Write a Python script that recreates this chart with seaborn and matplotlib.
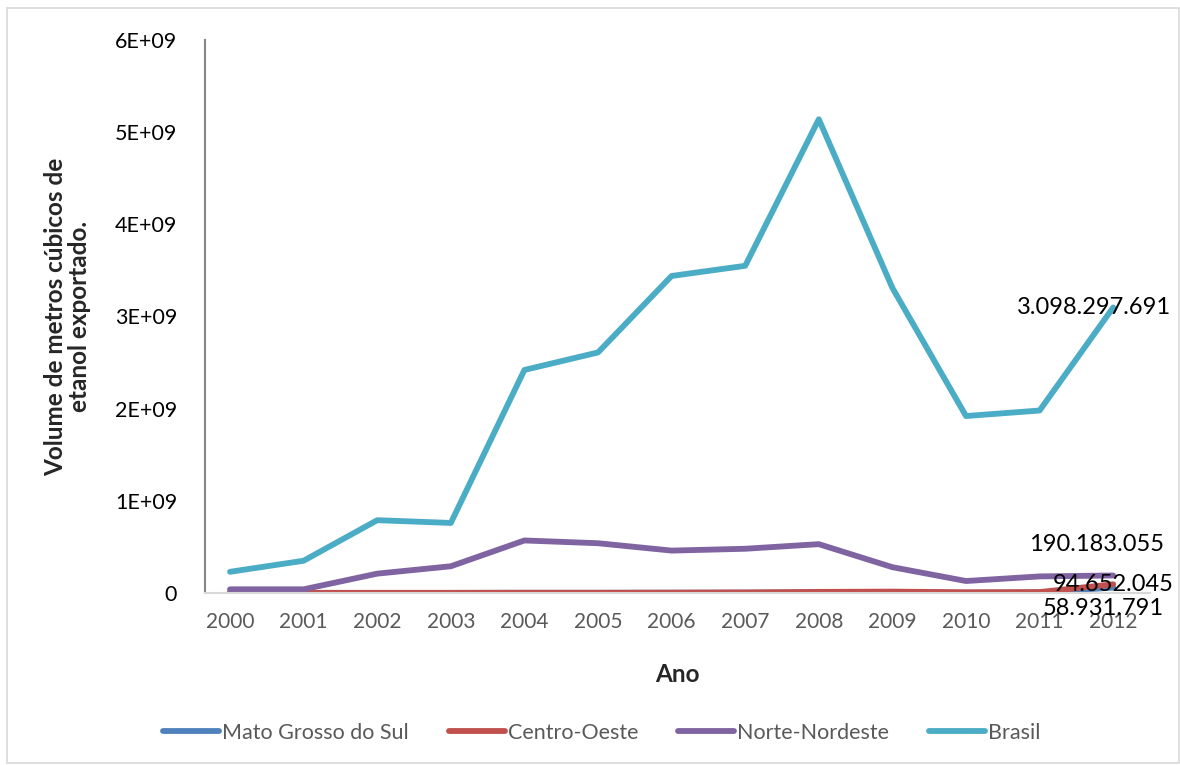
import matplotlib
matplotlib.use("Agg")
import matplotlib.pyplot as plt
import seaborn as sns
import pandas as pd
import numpy as np
from matplotlib.ticker import FixedLocator
from matplotlib.patches import Rectangle

years = [2000, 2001, 2002, 2003, 2004, 2005, 2006, 2007, 2008, 2009, 2010, 2011, 2012]
series_names = ["Mato Grosso do Sul", "Centro-Oeste", "Norte-Nordeste", "Brasil"]
mato_grosso_do_sul = [0.004e9, 0.001e9, 0.001e9, 0.001e9, 0.002e9, 0.002e9, 0.003e9, 0.004e9,
                      0.006e9, 0.008e9, 0.002e9, 0.005e9, 58931791]
centro_oeste = [0.01e9, 0.002e9, 0.002e9, 0.002e9, 0.003e9, 0.003e9, 0.004e9, 0.006e9,
                0.012e9, 0.015e9, 0.008e9, 0.01e9, 94652045]
norte_nordeste = [0.04e9, 0.04e9, 0.21e9, 0.29e9, 0.57e9, 0.54e9, 0.46e9, 0.48e9,
                  0.53e9, 0.28e9, 0.13e9, 0.18e9, 190183055]
brasil = [0.23e9, 0.35e9, 0.79e9, 0.76e9, 2.42e9, 2.61e9, 3.44e9, 3.55e9,
          5.14e9, 3.31e9, 1.92e9, 1.98e9, 3098297691]
y_ticks = [0, 1e9, 2e9, 3e9, 4e9, 5e9, 6e9]
y_tick_labels = ["0", "1E+09", "2E+09", "3E+09", "4E+09", "5E+09", "6E+09"]
end_labels = ["58.931.791", "94.652.045", "190.183.055", "3.098.297.691"]

colors = ["#4F81BD", "#C0504D", "#8064A2", "#4BACC6"]

df = pd.DataFrame({
    "Ano": years * 4,
    "Serie": sum([[n] * len(years) for n in series_names], []),
    "Valor": mato_grosso_do_sul + centro_oeste + norte_nordeste + brasil,
})

sns.set_theme(style="white")
plt.rcParams["font.family"] = ["Lato", "DejaVu Sans"]

fig = plt.figure(figsize=(11.8, 7.65), dpi=100)
fig.patches.append(Rectangle((0.006, 0.002), 0.993, 0.988, transform=fig.transFigure,
                             fill=False, edgecolor="#D9D9D9", linewidth=1.2))
ax = fig.add_axes([205 / 1180, 1 - 593 / 765, 945 / 1180, 553 / 765])

sns.lineplot(data=df, x="Ano", y="Valor", hue="Serie", hue_order=series_names,
             palette=colors, linewidth=4.2, ax=ax, legend=False, sort=False)
for line in ax.get_lines():
    line.set_solid_capstyle("round")
    line.set_solid_joinstyle("round")

ax.set_ylim(0, 6e9)
ax.set_xlim(1999.66, 2012.5)
ax.yaxis.set_major_locator(FixedLocator(y_ticks))
ax.set_yticklabels(y_tick_labels)
ax.set_xticks(years)
ax.set_xticklabels([str(y) for y in years])
ax.tick_params(axis="y", length=0, pad=20, labelsize=15.5, labelcolor="black")
ax.tick_params(axis="x", length=0, pad=14, labelsize=15, labelcolor="#595959")

for s in ["top", "right"]:
    ax.spines[s].set_visible(False)
ax.spines["left"].set_color("#868686")
ax.spines["left"].set_linewidth(1.5)
ax.spines["bottom"].set_color("#D9D9D9")
ax.spines["bottom"].set_linewidth(1.5)

ax.set_ylabel("Volume de metros cúbicos de\netanol exportado.", fontsize=17.5,
              fontweight="bold", linespacing=1.05)
ax.yaxis.set_label_coords(-0.121, 0.5)
ax.set_xlabel("Ano", fontsize=17.5, fontweight="bold")
ax.xaxis.set_label_coords(0.5, -0.127)

last = [mato_grosso_do_sul[-1], centro_oeste[-1], norte_nordeste[-1], brasil[-1]]
offsets = [(-7, -15), (0, 0), (-12, 22), (-14, 0)]
for val, lab, off in zip(last, end_labels, offsets):
    ax.annotate(lab, xy=(years[-1], val), xytext=off, textcoords="offset points",
                ha="center", va="center", fontsize=17, color="black")

handles = [plt.Line2D([0], [0], color=c, linewidth=4.2, solid_capstyle="round") for c in colors]
fig.legend(handles, series_names, loc="center", bbox_to_anchor=(0.510, 1 - 733 / 765),
           ncol=4, frameon=False, fontsize=15.5, handlelength=2.6, handletextpad=0.15,
           columnspacing=1.85, labelcolor="#595959")

fig.savefig("out.png", dpi=100)
